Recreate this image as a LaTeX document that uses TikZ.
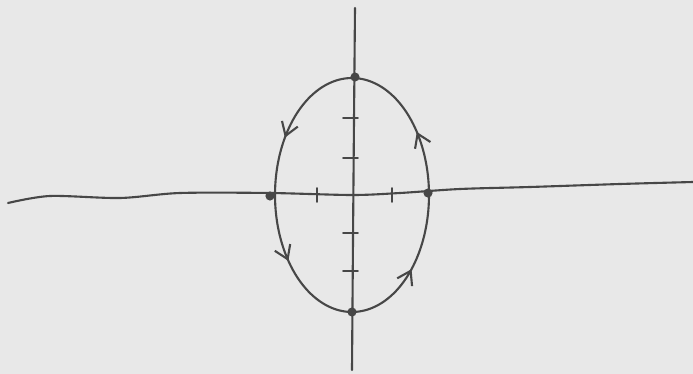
\documentclass[tikz,border=0pt]{standalone}
\usetikzlibrary{arrows.meta,decorations.markings}

\begin{document}
\begin{tikzpicture}[
        x=0.025cm, y=-0.025cm,
        pencil/.style={draw=black!72, line width=1.5pt, line cap=round, line join=round},
        tickmark/.style={draw=black!72, line width=1.2pt, line cap=round},
        dot/.style={circle, fill=black!72, inner sep=0pt, minimum size=6.5pt},
        orbit/.style={pencil, postaction={decorate}, decoration={markings,
            mark=at position 0.105 with {\arrow{Straight Barb[length=3.2mm, width=4.2mm]}},
            mark=at position 0.405 with {\arrow{Straight Barb[length=3.2mm, width=4.2mm]}},
            mark=at position 0.61 with {\arrow{Straight Barb[length=3.2mm, width=4.2mm]}},
            mark=at position 0.875 with {\arrow{Straight Barb[length=3.2mm, width=4.2mm]}}}}
    ]
        \fill[black!9] (0,0) rectangle (693,374);
        \useasboundingbox (0,0) rectangle (693,374);

        % axes
        \draw[pencil] plot[smooth] coordinates {(8,203) (50,196) (120,198) (180,193) (270,193)
            (352,195) (400,193) (460,189) (530,187) (620,184) (693,182)};
        \draw[pencil] plot[smooth] coordinates {(355,8) (354,120) (353,240) (352,370)};

        % ellipse
        \draw[orbit] plot[domain=0:360, samples=145] ({352+77*cos(\x)}, {195-117*sin(\x)}) -- cycle;

        \node[dot] (top) at (355,77) {};
        \node[dot] (left) at (270,196) {};
        \node[dot] (right) at (428,193) {};
        \node[dot] (bottom) at (352,312) {};

        \foreach \xx in {317,392}
            \draw[tickmark] (\xx,188) -- (\xx,202);
        \foreach \yy in {118,158,233,271}
            \draw[tickmark] (343,\yy) -- (358,\yy);
    \end{tikzpicture}
\end{document}
